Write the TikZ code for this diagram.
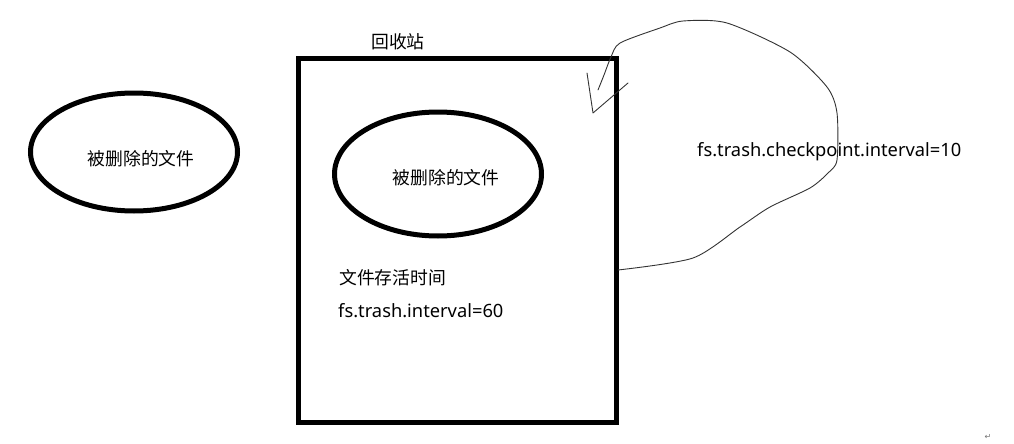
\documentclass[tikz,border=0pt]{standalone}
\usepackage{fontspec}
\setmainfont{Noto Sans}
\newfontfamily\cjk{Noto Sans CJK SC}
\newfontfamily\dejavu{DejaVu Sans}
\usetikzlibrary{shapes.geometric}
\begin{document}
\begin{tikzpicture}[x=1pt,y=-1pt,
  thick box/.style={draw=black,line width=5pt},
  blob/.style={draw=black,line width=5pt,ellipse,inner sep=0pt},
  cjktext/.style={font=\cjk\fontsize{17.8}{20}\selectfont,inner sep=0pt},
  lattext/.style={font=\fontsize{18.3}{20}\selectfont,inner sep=0pt,anchor=west},
  pen/.style={draw=black!80,line width=0.9pt,line join=round,line cap=round}]
\useasboundingbox (0,0) rectangle (1014,444);
% left ellipse
\node[blob,minimum width=207pt,minimum height=118pt] (e1) at (134,152) {};
\node[cjktext] (t1) at (141,159) {被删除的文件};
% trash box
\node[thick box,minimum width=318pt,minimum height=363pt,inner sep=0pt] (bin) at (457,240.5) {};
\node[cjktext] (bint) at (398,42) {回收站};
\node[blob,minimum width=207pt,minimum height=124pt] (e2) at (438,174) {};
\node[cjktext] (t2) at (446,178) {被删除的文件};
\node[cjktext,anchor=west] (life) at (339,278) {文件存活时间};
\node[lattext] (iv) at (338,311) {fs.trash.interval=60};
\node[lattext] (cp) at (697,152) {fs.trash.checkpoint.interval=10};
% freehand loop
\coordinate (s) at (618,270);
\draw[pen] plot[smooth,tension=0.45] coordinates {(618,270) (693,258) (740,227) (770,207) (810,188) (828,173)
  (837,160) (837,113) (827,87) (790,52) (727,23) (683,21)
  (660,28) (620,43) (611,57) (604,75) (598,90)};
\coordinate (v1) at (587,73);
\coordinate (v2) at (593,113);
\coordinate (v3) at (628,83);
\draw[pen] (v1) -- (v2) -- (v3);
\node[font=\dejavu\fontsize{8}{9}\selectfont,text=black!55,inner sep=0pt] (ret) at (988,437) {↵};
\end{tikzpicture}
\end{document}
